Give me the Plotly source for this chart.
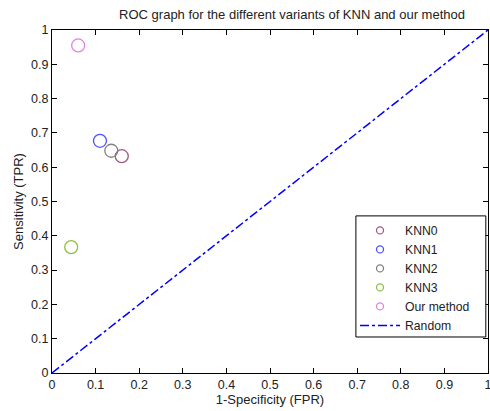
import plotly.graph_objects as go

names = ["KNN0", "KNN1", "KNN2", "KNN3", "Our method"]
fpr = [0.160, 0.110, 0.136, 0.044, 0.060]
tpr = [0.632, 0.677, 0.648, 0.367, 0.955]
colors = ["#a05a82", "#5050ff", "#808080", "#90c040", "#e080e8"]
random_x = [0, 1]
random_y = [0, 1]
ticks = [0, 0.1, 0.2, 0.3, 0.4, 0.5, 0.6, 0.7, 0.8, 0.9, 1]
tick_labels = ["0", "0.1", "0.2", "0.3", "0.4", "0.5", "0.6", "0.7", "0.8", "0.9", "1"]

fig = go.Figure()
for n, x, y, c in zip(names, fpr, tpr, colors):
    fig.add_trace(go.Scatter(x=[x], y=[y], mode="markers", name=n, showlegend=False, cliponaxis=False,
                             marker=dict(symbol="circle-open", size=13, color=c, line=dict(width=1.3, color=c))))
for n, c in zip(names, colors):
    fig.add_trace(go.Scatter(x=[None], y=[None], mode="markers", name=n,
                             marker=dict(symbol="circle-open", size=7, color=c, line=dict(width=1.3, color=c))))
fig.add_trace(go.Scatter(x=random_x, y=random_y, mode="lines", name="Random",
                         line=dict(color="#0000ff", width=1.5, dash="dashdot")))

axis_common = dict(range=[0, 1], tickvals=ticks, ticktext=tick_labels, ticks="inside", ticklen=5,
                   showline=True, linecolor="black", linewidth=1, mirror="ticks", showgrid=False,
                   zeroline=False, tickcolor="black", tickfont=dict(size=12.5, color="#222"),
                   automargin=False, ticklabeloverflow="allow")
fig.update_xaxes(title=dict(text="1-Specificity (FPR)", font=dict(size=13, color="#222"), standoff=0), **axis_common)
fig.update_yaxes(title=dict(text="Sensitivity (TPR)", font=dict(size=13, color="#222"), standoff=4), **axis_common)

# legend frame
fig.add_shape(type="rect", xref="paper", yref="paper", x0=0.697, x1=0.995, y0=0.105, y1=0.458,
              line=dict(color="black", width=1), fillcolor="white", layer="above")

fig.update_layout(
    width=490, height=411,
    margin=dict(l=52, r=2, t=30, b=38),
    paper_bgcolor="white", plot_bgcolor="white",
    font=dict(family="Liberation Sans, Arial, sans-serif", size=12.5, color="#222"),
    title=dict(text="ROC graph for the different variants of KNN and our method", x=0.596, xanchor="center",
               y=0.976, yanchor="top", font=dict(size=13, color="#222")),
    legend=dict(x=0.695, y=0.458, xanchor="left", yanchor="top", bgcolor="rgba(0,0,0,0)",
                borderwidth=0, font=dict(size=12.2, color="#222"),
                tracegroupgap=0, itemwidth=40),
)
fig.write_html("out.html", config={"displayModeBar": False},
               post_script="document.body.style.margin='0';document.body.style.overflow='hidden';")
